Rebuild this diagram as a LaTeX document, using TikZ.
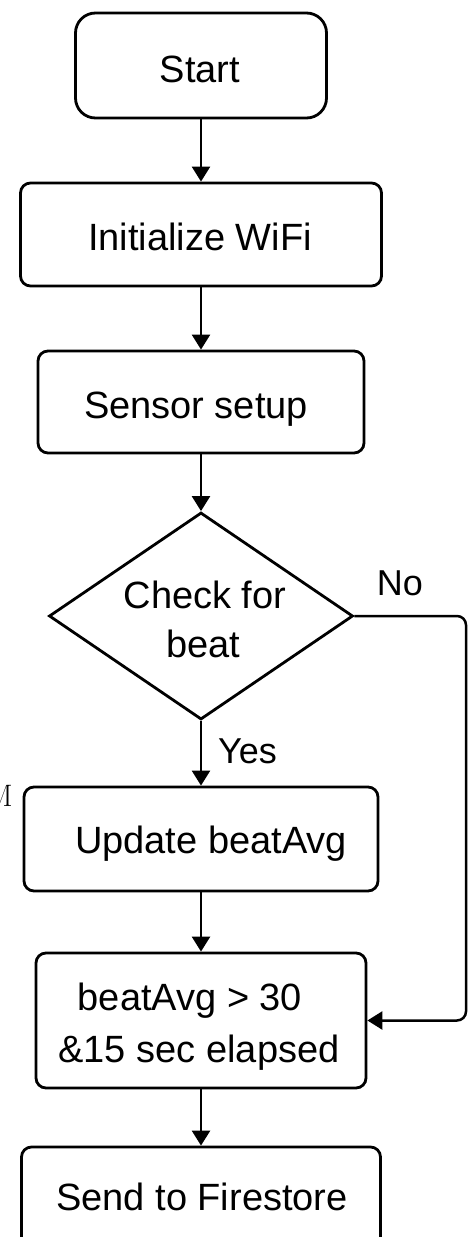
\documentclass[tikz,border=0pt]{standalone}
\usepackage{fontspec}
\newfontfamily\flowfont{Liberation Sans}
\usetikzlibrary{arrows.meta,shapes.geometric}

\tikzset{
  stepbox/.style={draw, line width=2.8pt, rounded corners=10pt, inner sep=0pt},
  termbox/.style={stepbox, rounded corners=20pt},
  decbox/.style={draw, diamond, line width=2.8pt, inner sep=0pt},
  txt/.style={anchor=base, inner sep=0pt, font=\flowfont\fontsize{38}{46}\selectfont},
  tag/.style={anchor=base, inner sep=0pt, font=\flowfont\fontsize{36}{44}\selectfont},
  arr/.style={line width=2.5pt, -{Triangle[length=15pt,width=18pt]}},
}

\begin{document}
\begin{tikzpicture}[x=1pt,y=-1pt]
  \useasboundingbox (0,0) rectangle (475,1237);

  % boxes
  \node[termbox, minimum width=251pt, minimum height=105pt] (start) at (201,65.5) {};
  \node[stepbox, minimum width=361pt, minimum height=103pt] (wifi)  at (201,234.5) {};
  \node[stepbox, minimum width=326pt, minimum height=102pt] (sens)  at (201,402) {};
  \node[decbox,  minimum width=304pt, minimum height=207pt] (chk)   at (201,616) {};
  \node[stepbox, minimum width=354pt, minimum height=104pt] (upd)   at (201,839) {};
  \node[stepbox, minimum width=330pt, minimum height=135pt] (cond)  at (201,1020.5) {};
  \node[stepbox, minimum width=359pt, minimum height=104pt] (send)  at (201,1199) {};

  % box texts
  \node[txt] (tstart) at (200,82)   {Start};
  \node[txt] (twifi)  at (200,250)  {Initialize WiFi};
  \node[txt] (tsens)  at (196,418)  {Sensor setup};
  \node[txt] (tchk1)  at (205,608)  {Check for};
  \node[txt] (tchk2)  at (203,657)  {beat};
  \node[txt] (tupd)   at (211,853)  {Update beatAvg};
  \node[txt] (tcond1) at (190,1010) {beatAvg > 30};
  \node[txt] (tcond2) at (199,1062) {\&15 sec elapsed};
  \node[txt] (tsend)  at (202,1210) {Send to Firestore};

  % stray serif mark at the left edge
  \node[anchor=base east, inner sep=0pt, font=\fontsize{31}{37}\selectfont] (mark) at (13,806) {M};

  % connectors
  \draw[arr] (start) -- (wifi);
  \draw[arr] (wifi) -- (sens);
  \draw[arr] (sens) -- (chk);
  \draw[arr] (chk) -- (upd);
  \draw[arr] (upd) -- (cond);
  \draw[arr] (cond) -- (send);

  \coordinate (noturn) at (466,616);
  \draw[arr, rounded corners=9pt] (chk.east) -- (noturn) -- (noturn |- cond.east) -- (cond.east);

  % branch labels
  \node[tag] (yes) at (247.5,763) {Yes};
  \node[tag] (no)  at (400,595)   {No};
\end{tikzpicture}
\end{document}
